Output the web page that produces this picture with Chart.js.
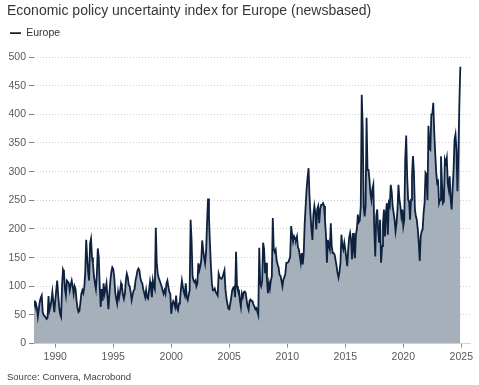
<!DOCTYPE html>
<html>
<head>
<meta charset="utf-8">
<script src="https://cdn.jsdelivr.net/npm/chart.js@4.4.1/dist/chart.umd.min.js"></script>
<style>
  html, body { margin: 0; padding: 0; background: #ffffff; }
  #wrap { width: 479px; height: 385px; position: relative; }
</style>
</head>
<body>
<div id="wrap"><canvas id="c" width="479" height="385"></canvas></div>
<script>
// ---- Data (monthly, Mar 1988 – Dec 2024) ----
const startYear = 1988;
const startMonth = 3; // March
const seriesName = 'Europe';
const europe = [
  // 1988 (Mar–Dec)
  75, 68, 70, 62, 47, 60, 73, 80, 84, 55,
  // 1989
  50, 48, 46, 43, 45, 83, 58, 65, 75, 90, 72, 55,
  // 1990
  75, 93, 110, 85, 64, 52, 47, 100, 129, 124, 95, 84,
  // 1991
  110, 108, 105, 93, 103, 110, 100, 87, 100, 95, 75, 62,
  // 1992
  55, 57, 72, 87, 93, 88, 98, 125, 181, 150, 125, 110,
  // 1993
  175, 183, 150, 140, 118, 105, 95, 120, 166, 150, 100, 64,
  // 1994
  95, 75, 105, 87, 95, 105, 81, 60, 88, 110, 125, 133,
  // 1995
  130, 116, 90, 78, 70, 90, 80, 90, 105, 99, 85, 78,
  // 1996
  87, 110, 122, 116, 102, 100, 90, 76, 85, 92, 95, 110,
  // 1997
  118, 127, 131, 128, 115, 108, 105, 95, 88, 81, 93, 80,
  // 1998
  78, 93, 108, 95, 81, 110, 100, 95, 202, 140, 122, 115,
  // 1999
  110, 105, 100, 93, 87, 93, 87, 105, 110, 99, 90, 87,
  // 2000
  52, 68, 74, 70, 64, 84, 62, 58, 70, 76, 95, 110,
  // 2001
  99, 90, 84, 105, 81, 76, 85, 93, 216, 180, 118, 110,
  // 2002
  107, 110, 100, 105, 140, 128, 135, 145, 180, 163, 150, 140,
  // 2003
  160, 210, 253, 220, 175, 135, 105, 93, 93, 96, 90, 87,
  // 2004
  84, 122, 116, 114, 113, 116, 122, 128, 95, 80, 70, 61,
  // 2005
  60, 70, 80, 93, 97, 99, 81, 160, 100, 93, 93, 75,
  // 2006
  64, 87, 81, 90, 91, 88, 75, 65, 59, 75, 77, 74,
  // 2007
  74, 68, 65, 60, 62, 56, 50, 167, 105, 100, 110, 176,
  // 2008
  165, 123, 141, 110, 88, 106, 96, 110, 117, 219, 165, 160,
  // 2009
  164, 145, 138, 133, 120, 118, 110, 100, 112, 116, 122, 141,
  // 2010
  141, 142, 146, 152, 205, 190, 178, 187, 183, 181, 187, 168,
  // 2011
  164, 152, 141, 158, 138, 158, 210, 240, 270, 290, 306, 257,
  // 2012
  225, 199, 181, 225, 240, 228, 199, 235, 240, 210, 234, 242,
  // 2013
  242, 245, 240, 215, 190, 141, 181, 170, 164, 210, 170, 158,
  // 2014
  158, 155, 145, 135, 123, 115, 125, 141, 190, 170, 164, 176,
  // 2015
  164, 150, 135, 164, 185, 193, 181, 147, 193, 164, 149, 190,
  // 2016
  200, 225, 212, 215, 240, 434, 379, 240, 222, 240, 394, 303,
  // 2017
  303, 286, 263, 251, 269, 277, 199, 152, 222, 234, 199, 176,
  // 2018
  216, 141, 170, 210, 234, 187, 228, 245, 190, 245, 240, 277,
  // 2019
  265, 240, 228, 216, 196, 210, 234, 277, 251, 240, 222, 234,
  // 2020
  205, 216, 321, 363, 292, 251, 248, 216, 251, 292, 327, 298,
  // 2021
  234, 222, 216, 199, 176, 144, 187, 196, 199, 228, 245, 298,
  // 2022
  295, 250, 380, 340, 338, 400, 400, 420, 369, 333, 300, 280,
  // 2023
  283, 245, 251, 327, 280, 245, 248, 321, 315, 324, 280, 269,
  // 2024
  292, 251, 234, 269, 303, 356, 365, 338, 266, 330, 420, 483
];
const xTickYears = [1990, 1995, 2000, 2005, 2010, 2015, 2020, 2025];
const yTickValues = [0, 50, 100, 150, 200, 250, 300, 350, 400, 450, 500];

const titleText = 'Economic policy uncertainty index for Europe (newsbased)';
const sourceText = 'Source: Convera, Macrobond';

// Month positions as decimal years (categories)
const monthX = europe.map((_, i) => startYear + (startMonth - 1 + i) / 12);
const points = europe.map((v, i) => ({ x: monthX[i], y: v }));

const FONT = '"Liberation Sans", Arial, sans-serif';

// Adds extra space below the legend so the plot starts at the right height
const legendSpacer = {
  id: 'legendSpacer',
  beforeInit(chart) {
    const origFit = chart.legend.fit;
    chart.legend.fit = function fit() {
      origFit.bind(chart.legend)();
      this.height += 8.7;
    };
  }
};

new Chart(document.getElementById('c'), {
  type: 'line',
  data: {
    datasets: [{
      label: seriesName,
      data: points,
      borderColor: '#0e2240',
      backgroundColor: '#a6b0bb',
      borderWidth: 1.8,
      fill: 'origin',
      pointRadius: 0,
      pointHoverRadius: 0,
      tension: 0,
      pointStyle: 'line'
    }]
  },
  plugins: [legendSpacer],
  options: {
    responsive: false,
    animation: false,
    devicePixelRatio: 1,
    layout: { padding: { left: 7, right: 9, top: 0, bottom: 0 } },
    plugins: {
      tooltip: { enabled: false },
      title: {
        display: true,
        text: titleText,
        align: 'start',
        color: '#363636',
        font: { family: FONT, size: 14, weight: 'normal' },
        padding: { top: 3, bottom: 5 }
      },
      legend: {
        display: true,
        align: 'start',
        labels: {
          usePointStyle: true,
          pointStyleWidth: 11,
          boxHeight: 10,
          padding: 3,
          color: '#333333',
          font: { family: FONT, size: 10.5 }
        }
      },
      subtitle: {
        display: true,
        position: 'bottom',
        text: sourceText,
        align: 'start',
        color: '#404040',
        font: { family: FONT, size: 9.5, weight: 'normal' },
        padding: { top: 4, bottom: 2 }
      }
    },
    scales: {
      x: {
        type: 'linear',
        min: monthX[0],
        max: 2025.75,
        afterBuildTicks: (axis) => { axis.ticks = xTickYears.map(v => ({ value: v })); },
        afterFit: (axis) => { axis.height = 24; },
        ticks: {
          autoSkip: false,
          maxRotation: 0,
          padding: 3,
          color: '#595959',
          font: { family: FONT, size: 10.5 },
          callback: (v) => String(v)
        },
        grid: {
          drawOnChartArea: false,
          drawTicks: true,
          tickLength: 4,
          tickColor: '#8a8a8a'
        },
        border: { display: true, color: '#d4d4d4', width: 1 }
      },
      y: {
        min: 0,
        max: 500,
        afterBuildTicks: (axis) => { axis.ticks = yTickValues.map(v => ({ value: v })); },
        afterFit: (axis) => { axis.width = 27; },
        ticks: {
          padding: 3,
          color: '#595959',
          font: { family: FONT, size: 10.5 },
          callback: (v) => String(v)
        },
        grid: {
          color: '#cfcfcf',
          lineWidth: 1,
          drawTicks: true,
          tickLength: 5,
          tickColor: '#808080',
          tickWidth: 1,
          tickBorderDash: []
        },
        border: { display: false, dash: [1, 2] }
      }
    }
  }
});
</script>
</body>
</html>
